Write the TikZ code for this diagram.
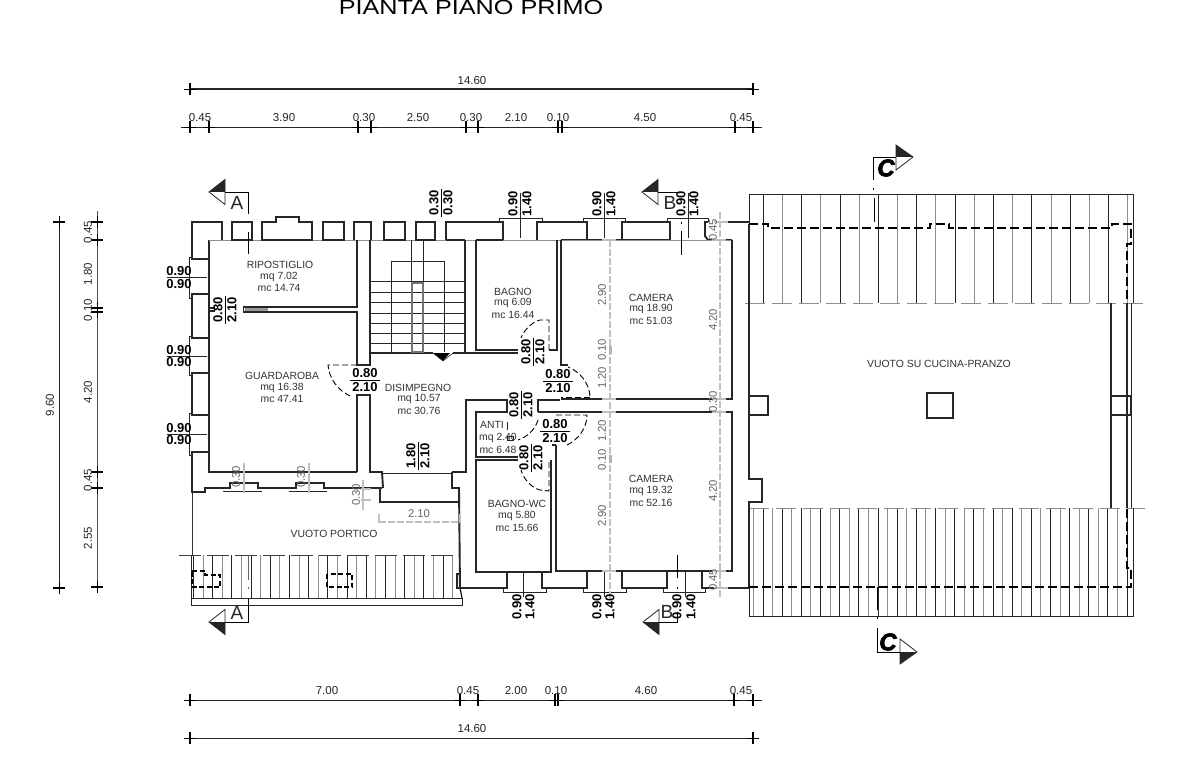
\documentclass[tikz,border=0pt]{standalone}
\usepackage{fontspec}
\setmainfont{Liberation Sans}
\newfontfamily\heavyfont[FakeBold=3]{Liberation Sans}
\tikzset{
 wall/.style={line width=1.9pt,black!85,line join=miter},
 thinl/.style={line width=0.6pt,black!85},
 grayl/.style={line width=0.7pt,black!45},
 graydash/.style={line width=1.3pt,black!25,dash pattern=on 7pt off 2pt},
 graythick/.style={line width=1.5pt,black!25},
 roomtxt/.style={inner sep=0pt,font=\fontsize{10.4}{11}\selectfont,text=black!80},
 dimtxt/.style={inner sep=0pt,font=\fontsize{11.5}{12}\selectfont,text=black!85},
 graytxt/.style={inner sep=0pt,font=\fontsize{11.3}{12}\selectfont,text=black!60},
 bold/.style={inner sep=0pt,font=\fontsize{13}{13}\bfseries\selectfont,text=black},
 doorarc/.style={line width=0.9pt,black,dash pattern=on 6pt off 3pt},
 hiddenw/.style={line width=2pt,black,dash pattern=on 9pt off 4pt},
 sectionl/.style={line width=0.7pt,black},
 sectxt/.style={inner sep=0pt,font=\fontsize{19}{20}\selectfont,text=black!85},
 secc/.style={inner sep=0pt,font=\heavyfont\fontsize{24}{24}\bfseries\itshape\selectfont,text=black},
}
\newcommand\dtv[2]{\draw[line width=0.9pt,black] (#1,#2-6)--(#1,#2+6); \draw[line width=1.4pt,black] (#1-6,#2)--(#1+6,#2);}
\newcommand\dth[2]{\draw[line width=0.9pt,black] (#1-6,#2)--(#1+6,#2); \draw[line width=1.4pt,black] (#1,#2-6)--(#1,#2+6);}
\begin{document}
\begin{tikzpicture}[x=1pt,y=-1pt]
\useasboundingbox (0,0) rectangle (1195,773);
\fill[white] (0,0) rectangle (1195,773);
% title
\node[inner sep=0pt] (title) at (471,7.5) {\fontsize{20.5}{20.5}\selectfont\scalebox{1.23}[1]{PIANTA PIANO PRIMO}};

% ---- dimension chains: top
\draw[line width=1.1pt,black!85] (189,89)--(754,89);
\foreach \x in {190,753} {\dth{\x}{89}}
\node[dimtxt] (dt0) at (472,81) {14.60};
\draw[line width=0.8pt,black!85] (181,127)--(762,127);
\foreach \x in {190,209,358,371,466,478,558,562,735,753} {\dth{\x}{127}}
\foreach \x/\t in {200/0.45,284/3.90,364/0.30,418/2.50,471/0.30,516/2.10,558/0.10,645/4.50,741/0.45}
  {\node[dimtxt] at (\x,118) {\t};}
% bottom
\draw[line width=0.8pt,black!85] (189,700)--(762,700);
\foreach \x in {190,460,478,555,558,734,753} {\dth{\x}{700}}
\foreach \x/\t in {327/7.00,468/0.45,516/2.00,556/0.10,646/4.60,741/0.45}
  {\node[dimtxt] at (\x,691) {\t};}
\draw[line width=0.8pt,black!85] (189,738)--(754,738);
\foreach \x in {190,753} {\dth{\x}{738}}
\node[dimtxt] (db0) at (472,729) {14.60};
% left
\draw[line width=0.9pt,black!85] (59,222)--(59,588);
\foreach \y in {222,588} {\dtv{59}{\y}}
\node[dimtxt,rotate=90] (dl0) at (50,405) {9.60};
\draw[line width=0.8pt,black!70] (97,211)--(97,590);
\foreach \y in {222,240,308,312,472,488,587} {\dtv{97}{\y}}
\foreach \y/\t in {232/0.45,274/1.80,310/0.10,392/4.20,480/0.45,538/2.55}
  {\node[dimtxt,rotate=90] at (88,\y) {\t};}

% ---- roof rafters, right
\foreach \i in {0,2,...,19} {\draw[thinl] ({763.3+19.17*\i},194)--({763.3+19.17*\i},303);}
\foreach \i in {1,3,...,19} {\draw[grayl] ({763.3+19.17*\i},194)--({763.3+19.17*\i},303);}
\foreach \i in {1,3,...,39} {\draw[thinl] ({753.3+9.58*\i},508)--({753.3+9.58*\i},616);}
\foreach \i in {0,2,...,39} {\draw[grayl] ({753.3+9.58*\i},508)--({753.3+9.58*\i},616);}
\draw[grayl,dash pattern=on 20pt off 7pt] (745,303)--(1145,303);
\draw[grayl,dash pattern=on 20pt off 7pt] (749,508)--(1145,508);
\draw[line width=0.9pt,black!85] (749,303)--(749,194)--(1133,194)--(1133,303);
\draw[line width=0.9pt,black!85] (749,587)--(749,616)--(1133,616)--(1133,508);
\draw[line width=0.8pt,black!85] (1131,303)--(1131,396) (1131,415)--(1131,508);
% right block walls
\draw[wall] (749,224)--(749,479)--(762,479)--(762,502)--(749,502)--(749,587);
\draw[wall] (749,396)--(768,396)--(768,415)--(749,415);
\draw[wall] (927,393) rectangle (953,418);
\draw[wall] (1111,303)--(1111,508);
\draw[wall] (1127,303)--(1127,508);
\draw[wall] (1111,396) rectangle (1131,415);
\draw[hiddenw] (749,224)--(768,224)--(768,228)--(930,228)--(930,224)--(949,224)--(949,228)--(1112,228)--(1112,224)--(1131,224)--(1131,244)--(1127,244)--(1127,303);
\draw[hiddenw] (749,587)--(1131,587)--(1131,568)--(1127,568)--(1127,508);
\draw[wall] (718,222)--(749,222) (730,588)--(749,588);
\node[roomtxt] (vuotoc) at (939,364) {VUOTO SU CUCINA-PRANZO};

% ---- portico
\foreach \i in {0,2,...,27} {\draw[thinl] ({193.3+9.6*\i},555)--({193.3+9.6*\i},598);}
\foreach \i in {1,3,...,27} {\draw[grayl] ({193.3+9.6*\i},555)--({193.3+9.6*\i},598);}
\draw[line width=0.7pt,black!75,dash pattern=on 22pt off 6pt] (179,555)--(460,555);
\draw[line width=0.8pt,black!80] (192,492)--(192,555);
\draw[line width=0.9pt,black!85] (191,555)--(191,605)--(462,605)--(462,598)--(191,598);
\draw[line width=1.1pt,black] (462,598)--(460,588);
\draw[hiddenw,line width=1.5pt,dash pattern=on 5pt off 2.5pt] (192,571)--(205,571)--(205,575)--(220,575)--(220,587)--(192,587)--cycle;
\draw[hiddenw,line width=1.5pt,dash pattern=on 5pt off 2.5pt] (327,574) rectangle (352,587);
\draw[wall] (460,574)--(457,574)--(457,588)--(462,588);
\node[roomtxt] (vuotop) at (334,534) {VUOTO PORTICO};

% ---- main building walls
% west facade
\draw[wall] (222,240)--(222,222)--(192,222)--(192,259)--(209,259);
\draw[wall] (209,294)--(192,294)--(192,338)--(209,338);
\draw[wall] (209,373)--(192,373)--(192,415)--(209,415);
\draw[wall] (209,452)--(192,452)--(192,492)--(205,492)--(205,488)--(230,488)--(230,483)--(258,483)--(258,488)--(296,488)--(296,483)--(324,483)--(324,488)--(382,488);
\draw[thinl] (223,491)--(262,491) (289,491)--(327,491);
\foreach \a/\b in {257/298,336/375,413/455}
  {\draw[thinl] (192,\a)--(189,\a)--(189,\b)--(192,\b);}
\draw[wall] (209,240)--(209,472)--(357,472);
% north facade piers
\draw[grayl] (209,240)--(503,240);
\draw[wall] (232,222) rectangle (252,240);
\draw[wall] (262,240)--(262,222)--(276,222)--(276,217)--(299,217)--(299,222)--(312,222)--(312,240)--cycle;
\draw[wall] (323,222) rectangle (344,240);
\draw[wall] (354,240)--(354,222)--(371,222)--(371,240);
\draw[wall] (384,222) rectangle (405,240);
\draw[wall] (416,222) rectangle (435,240);
\draw[wall] (446,240)--(446,222)--(503,222)--(503,240)--(476,240);
\draw[wall] (446,240)--(465,240);
\draw[wall] (537,240)--(537,222)--(587,222)--(587,240)--(561,240);
\draw[wall] (622,240)--(622,222)--(670,222)--(670,240)--cycle;
\draw[wall] (708,222)--(705,222)--(705,236)--(708,240)--(718,240) (720,240)--(732,240);
\draw[wall] (587,240)--(587,222) (561,240)--(622,240);
\foreach \a/\b in {499/542,583/625,667/708}
  {\draw[thinl] (\a,222)--(\a,218)--(\b,218)--(\b,222);}
\draw[grayl] (503,240)--(732,240);
% stair block & central
\draw[wall] (357,240)--(357,307)--(243,307);
\draw[wall] (243,312)--(357,312)--(357,365)--(370,365)--(370,240);
\draw[line width=3pt,black!40] (245,309.5)--(268,309.5);
\draw[thinl] (243,307)--(243,312);
\draw[wall] (209,308)--(215,308) (209,311)--(215,311);
\draw[wall] (357,472)--(357,395)--(370,395)--(370,472)--(382,472)--(383,488);
\draw[wall] (382,488)--(380,488)--(380,502)--(459,502);
\draw[wall] (452,472)--(452,488)--(459,488)--(460,588);
\draw[thinl] (383,473)--(452,473);
\draw[wall] (452,472)--(466,472)--(466,400)--(507,400)--(507,412)--(476,412)--(476,457)--(518,457);
\draw[wall] (518,460)--(476,460)--(476,572)--(551,572)--(551,460);
\draw[wall] (465,240)--(465,353);
\draw[wall] (370,353)--(433,353) (453,353)--(518,353);
\draw[wall] (476,240)--(476,350)--(518,350);
% stairs
\foreach \y in {281,292,302,313,323,333,343} {\draw[thinl] (370,\y)--(465,\y);}
\draw[thinl] (391,352)--(391,261)--(444,261)--(444,352);
\draw[thinl] (411,240)--(411,283) (423,240)--(423,283);
\draw[line width=1.3pt,black!55] (412,283) rectangle (423,352);
\fill[black] (433,353)--(450,353)--(443,361)--cycle;
\draw[thinl] (433,353)--(443,361)--(453,353);
% bagno / camera
\draw[wall] (557,240)--(557,350)--(549,350);
\draw[wall] (561,240)--(561,365)--(568,365);
\draw[wall] (561,399)--(732,399)--(732,240);
\draw[wall] (538,412)--(538,400)--(560,400);
\draw[wall] (555,412)--(732,412)--(732,571)--(556,571)--(556,445);
\draw[wall] (538,412)--(555,412);
\draw[wall] (552,445)--(556,445);
% south facade
\draw[wall] (460,588)--(507,588)--(507,572);
\draw[wall] (542,572)--(542,588)--(587,588)--(587,572);
\draw[wall] (622,572)--(622,588)--(667,588)--(667,572);
\draw[wall] (702,572)--(702,588)--(730,588);
\foreach \a/\b in {503/546,583/626,663/705}
  {\draw[thinl] (\a,588)--(\a,592)--(\b,592)--(\b,588);}

% door swings
\draw[doorarc] (357,365)--(328,365) .. controls (329,378) and (338,392) .. (353,397);
\draw[doorarc] (590,397)--(561,397);
\draw[doorarc] (590,396) .. controls (589,384) and (581,372) .. (568,367);
\draw[doorarc] (549,350)--(549,320)--(540,320) .. controls (532,322) and (524,330) .. (521,338);
\draw[doorarc] (556,415)--(587,415) .. controls (587,428) and (578,440) .. (567,445);
\draw[doorarc] (538,420) .. controls (535,430) and (527,437) .. (518,440);
\draw[doorarc] (549,462)--(549,491)--(540,490) .. controls (532,488) and (524,480) .. (521,470);
% small mark in anti
\draw[thinl,line width=0.9pt] (507,422)--(507,430);
\draw[thinl] (507,436) rectangle (513,440);

% gray dim lines
\draw[graydash] (610,240)--(610,600);
\draw[graydash] (720,212)--(720,598);
\foreach \y in {240,399,412,571} {\draw[graythick] (602,\y)--(616,\y);}
\foreach \y in {240,399,412,571} {\draw[graythick] (712,\y)--(726,\y);}
\draw[graythick] (714,222)--(728,222) (714,588)--(728,588);
\draw[line width=3pt,black!30] (610,346)--(610,354) (610,455)--(610,463);
\foreach \x/\y/\t in {602/295/2.90,602/350/0.10,602/378/1.20,602/431/1.20,602/460/0.10,602/516/2.90,713/320/4.20,713/402/0.30,713/230/0.45,713/491/4.20,713/580/0.45}
  {\node[graytxt,rotate=90] at (\x,\y) {\t};}
\draw[graythick,line width=1.1pt] (244,463)--(244,493) (309,463)--(309,493);
\node[graytxt,rotate=90] (g1) at (236,477) {0.30};
\node[graytxt,rotate=90] (g2) at (301,477) {0.30};
\draw[graythick,line width=1.1pt] (363,480)--(363,510) (361,489)--(371,489) (361,500)--(371,500);
\node[graytxt,rotate=90] (g3) at (356,495) {0.30};
\draw[graydash] (379,522)--(460,522);
\draw[graythick] (379,514)--(379,523) (460,514)--(460,523);
\node[graytxt] (g4) at (419,514) {2.10};

% room labels
\foreach \x/\y/\t in {280/265/RIPOSTIGLIO,279/277/mq 7.02,279/288/mc 14.74,
  282/376/GUARDAROBA,282/388/mq 16.38,282/399/mc 47.41,
  418/388/DISIMPEGNO,419/399/mq 10.57,419/411/mc 30.76,
  513/292/BAGNO,513/303/mq 6.09,513/315/mc 16.44,
  651/298/CAMERA,651/309/mq 18.90,651/321/mc 51.03,
  492/425/ANTI,498/438/mq 2.40,498/450/mc 6.48,
  517/504/BAGNO-WC,517/516/mq 5.80,517/528/mc 15.66,
  651/479/CAMERA,651/491/mq 19.32,651/503/mc 52.16}
  {\node[roomtxt] at (\x,\y) {\t};}

% opening labels (horizontal)
\foreach \y/\a/\b in {277/271/284,356/350/362,434/428/440}
  {\draw[thinl] (167,\y)--(207,\y);
   \node[bold] at (179,\a) {0.90};
   \node[bold] at (179,\b) {0.90};}
\foreach \x/\y in {365/380,558/381,555/431}
  {\draw[line width=0.9pt,black] ({\x-15},\y)--({\x+15},\y);
   \node[bold] at (\x,{\y-7}) {0.80};
   \node[bold] at (\x,{\y+7}) {2.10};}
% opening labels (rotated)
\foreach \x/\y/\a/\b in {225/310/0.80/2.10,521/405/0.80/2.10,533/352/0.80/2.10,531/458/0.80/2.10,418/456/1.80/2.10,441/203/0.30/0.30}
  {\node[bold,rotate=90] at ({\x-7},\y) {\a};
   \node[bold,rotate=90] at ({\x+7},\y) {\b};
   \draw[line width=0.9pt,black] (\x,{\y-14})--(\x,{\y+14});}
\foreach \x/\l/\r/\ya/\yb/\yc in {520/513/527/193/238/204,604/597/611/193/238/204,688/681/694/193/238/204,523/517/530/572/597/607,604/597/610/572/597/607,685/677/691/572/597/607}
  {\node[bold,rotate=90] at (\l,\yc) {0.90};
   \node[bold,rotate=90] at (\r,\yc) {1.40};
   \draw[thinl] (\x,\ya)--(\x,\yb);}

% section marks
\newcommand\secw[4]{% x tip, y tip, half height, filled sign
 \fill[black!85] (#1,#2)--(#1+16,#2)--(#1+16,#2+#4*12.5)--cycle;
 \draw[line width=0.8pt,black!85] (#1,#2)--(#1+16,#2-12.5)--(#1+16,#2+12.5)--cycle;}
\secw{209}{192}{12}{-1}
\draw[sectionl] (225,192)--(248,192)--(248,214) (248,232)--(248,254);
\node[sectxt] (sa1) at (237,203) {A};
\secw{209}{622}{12}{1}
\draw[sectionl] (225,622)--(248,622)--(248,598);
\draw[sectionl,black!60] (248,555)--(248,580) (248,587)--(248,589);
\node[sectxt] (sa2) at (237,613) {A};
\secw{642}{192}{12}{-1}
\draw[sectionl] (658,192)--(682,192) (681,231)--(681,255) (681,222)--(681,224);
\node[sectxt] (sb1) at (670,203) {B};
\secw{643}{622}{12}{1}
\draw[sectionl] (659,622)--(677,622)--(677,612) (677,555)--(677,578) (677,587)--(677,589);
\node[sectxt] (sb2) at (667,612) {B};
% C marks
\fill[black!85] (896,145)--(913,157)--(896,157)--cycle;
\draw[line width=0.8pt,black!85] (896,145)--(913,157)--(896,170)--cycle;
\draw[sectionl] (896,157)--(873,157)--(873,180) (873,188)--(873,190) (874,198)--(874,222);
\node[secc] (sc1) at (886,168) {C};
\fill[black!85] (900,652)--(917,652)--(900,664)--cycle;
\draw[line width=0.8pt,black!85] (900,639)--(917,652)--(900,664)--cycle;
\draw[sectionl] (900,652)--(877,652)--(877,628) (877,617)--(877,619) (877,587)--(877,610);
\node[secc] (sc2) at (888,642) {C};
\end{tikzpicture}
\end{document}
